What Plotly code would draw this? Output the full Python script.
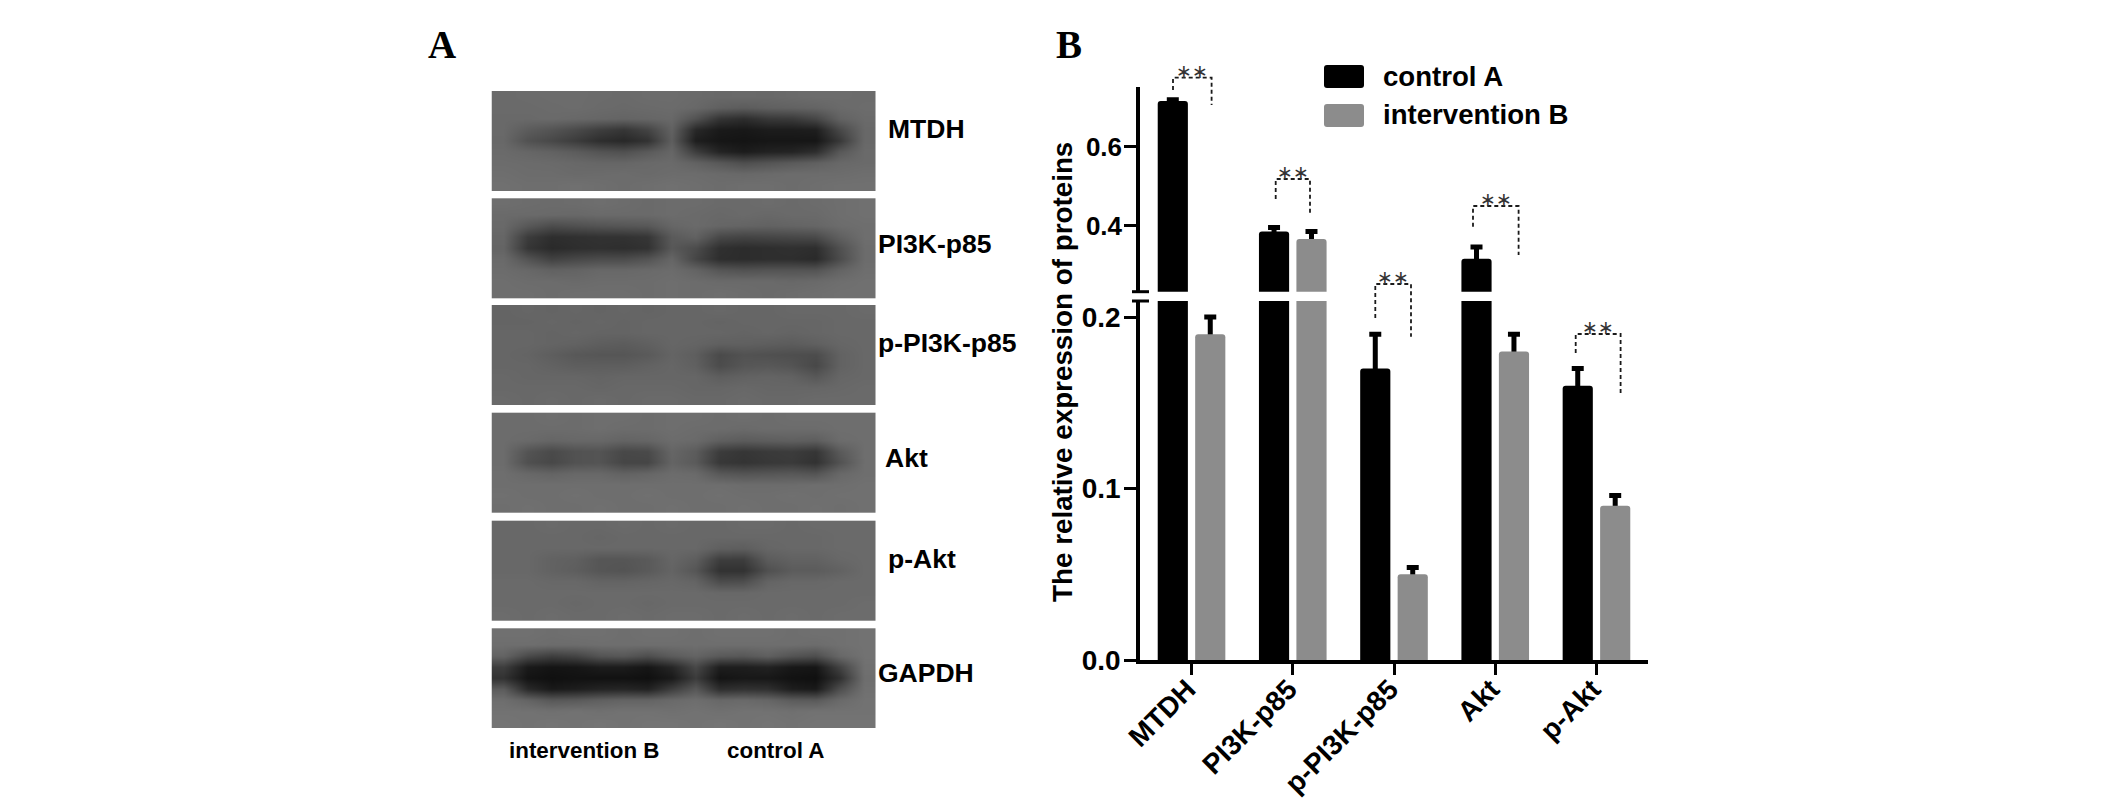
import plotly.graph_objects as go

W, H = 2123, 799
MARGIN = 8  # default page margin around the figure

# ---- data ----
categories = ["MTDH", "PI3K-p85", "p-PI3K-p85", "Akt", "p-Akt"]
control_a = [0.715, 0.386, 0.170, 0.317, 0.160]
control_a_err = [0.003, 0.010, 0.020, 0.030, 0.010]
intervention_b = [0.190, 0.367, 0.050, 0.180, 0.090]
intervention_b_err = [0.010, 0.019, 0.004, 0.010, 0.006]
err_below = [0.02, 0.02, 0.02, 0.02, 0.02]
lower_ticks = [0.0, 0.1, 0.2]
upper_ticks = [0.4, 0.6]
blot_labels = ["MTDH", "PI3K-p85", "p-PI3K-p85", "Akt", "p-Akt", "GAPDH"]

# gray levels read from the blots (rows top to bottom, columns left to right)
blot_mtdh = [
    [106, 107, 108, 108, 107, 106, 108, 108, 106, 104, 105, 104, 106, 108, 108, 107],
    [106, 106, 107, 108, 106, 105, 106, 107, 104, 96, 92, 96, 98, 100, 106, 108],
    [105, 105, 106, 104, 102, 100, 102, 104, 82, 52, 45, 56, 58, 70, 98, 106],
    [105, 92, 84, 74, 62, 54, 68, 98, 40, 26, 24, 28, 28, 30, 72, 104],
    [104, 82, 72, 60, 46, 40, 50, 94, 30, 22, 20, 22, 22, 22, 56, 104],
    [106, 102, 98, 92, 84, 80, 90, 102, 62, 36, 28, 34, 36, 46, 88, 106],
    [108, 107, 106, 104, 102, 102, 105, 106, 98, 88, 78, 84, 90, 96, 104, 106],
    [110, 108, 108, 106, 107, 108, 106, 108, 108, 106, 104, 106, 108, 108, 108, 110],
    [112, 110, 110, 112, 110, 108, 110, 112, 110, 108, 110, 110, 108, 110, 112, 112],
]
blot_pi3k = [
    [110, 108, 107, 108, 110, 108, 106, 108, 108, 106, 106, 108, 106, 108, 110, 112],
    [106, 106, 105, 104, 106, 106, 106, 108, 106, 104, 106, 104, 106, 106, 110, 112],
    [105, 88, 76, 80, 84, 86, 88, 102, 106, 102, 100, 98, 100, 102, 108, 110],
    [102, 60, 46, 48, 50, 50, 54, 90, 98, 72, 68, 70, 72, 74, 96, 110],
    [100, 54, 42, 46, 48, 46, 50, 88, 76, 48, 44, 46, 48, 46, 80, 108],
    [106, 84, 66, 72, 76, 76, 84, 102, 70, 46, 44, 46, 46, 42, 76, 108],
    [108, 104, 98, 100, 104, 104, 106, 108, 100, 86, 82, 84, 84, 84, 100, 110],
    [110, 108, 108, 106, 108, 108, 108, 110, 108, 106, 106, 106, 104, 106, 110, 112],
    [110, 110, 108, 110, 110, 110, 108, 110, 108, 110, 108, 106, 108, 110, 112, 112],
]
blot_ppi3k = [
    [100, 102, 100, 102, 100, 102, 100, 102, 102, 104, 102, 102, 104, 104, 104, 106],
    [100, 100, 102, 100, 102, 100, 102, 102, 102, 100, 102, 102, 102, 102, 104, 104],
    [102, 102, 100, 102, 100, 100, 102, 102, 102, 102, 100, 102, 100, 102, 104, 104],
    [102, 102, 100, 98, 94, 92, 96, 102, 100, 96, 96, 94, 92, 96, 102, 104],
    [102, 100, 94, 88, 86, 86, 90, 100, 94, 74, 82, 80, 78, 76, 98, 104],
    [102, 102, 98, 94, 94, 94, 98, 102, 96, 76, 86, 88, 84, 72, 98, 104],
    [104, 102, 102, 102, 100, 102, 102, 102, 102, 94, 98, 100, 98, 88, 102, 104],
    [104, 104, 104, 104, 102, 104, 104, 104, 102, 102, 104, 102, 102, 102, 104, 106],
    [106, 104, 106, 104, 106, 104, 106, 106, 104, 104, 106, 104, 104, 106, 106, 106],
]
blot_akt = [
    [108, 108, 110, 108, 110, 110, 108, 110, 110, 108, 110, 108, 110, 110, 110, 110],
    [108, 108, 108, 108, 110, 108, 108, 110, 108, 108, 106, 108, 108, 108, 110, 110],
    [108, 106, 102, 104, 104, 100, 102, 108, 106, 96, 92, 94, 96, 94, 108, 110],
    [108, 84, 74, 82, 84, 72, 74, 102, 92, 60, 54, 58, 60, 54, 90, 110],
    [108, 80, 72, 82, 84, 70, 70, 100, 90, 56, 52, 56, 58, 50, 82, 110],
    [110, 104, 100, 104, 104, 98, 102, 108, 106, 88, 84, 86, 88, 84, 104, 110],
    [110, 110, 110, 110, 110, 110, 110, 110, 110, 110, 108, 108, 108, 110, 110, 112],
    [112, 110, 110, 112, 110, 110, 112, 110, 110, 112, 110, 110, 112, 110, 112, 112],
    [110, 112, 110, 110, 112, 110, 110, 112, 110, 110, 112, 110, 110, 112, 110, 112],
]
blot_pakt = [
    [104, 104, 106, 104, 104, 106, 104, 106, 104, 104, 106, 106, 104, 106, 106, 106],
    [104, 104, 104, 104, 102, 104, 104, 104, 104, 104, 104, 104, 104, 104, 106, 106],
    [104, 104, 104, 104, 104, 104, 104, 104, 104, 96, 94, 102, 104, 104, 106, 106],
    [104, 104, 98, 96, 86, 86, 90, 102, 94, 62, 62, 92, 98, 98, 104, 106],
    [104, 104, 98, 94, 86, 84, 90, 100, 86, 50, 50, 80, 92, 92, 98, 106],
    [106, 106, 104, 104, 100, 100, 102, 104, 100, 76, 78, 100, 104, 104, 106, 106],
    [106, 106, 106, 106, 106, 106, 106, 106, 106, 104, 104, 106, 106, 106, 106, 106],
    [106, 106, 106, 104, 106, 106, 104, 106, 106, 106, 106, 106, 106, 106, 106, 108],
    [108, 106, 108, 106, 106, 108, 106, 108, 108, 106, 108, 106, 108, 106, 108, 108],
]
blot_gapdh = [
    [112, 112, 110, 112, 112, 110, 112, 112, 110, 112, 112, 112, 110, 112, 112, 114],
    [110, 110, 108, 108, 110, 110, 110, 110, 110, 110, 110, 110, 110, 108, 112, 114],
    [100, 74, 62, 68, 84, 88, 78, 92, 100, 90, 88, 96, 84, 78, 104, 114],
    [62, 26, 20, 22, 28, 28, 22, 38, 72, 30, 30, 34, 24, 22, 66, 112],
    [50, 20, 16, 18, 18, 18, 16, 26, 60, 20, 24, 24, 18, 16, 48, 110],
    [92, 42, 26, 30, 36, 38, 34, 62, 88, 46, 50, 48, 30, 26, 78, 112],
    [110, 100, 88, 90, 96, 100, 100, 106, 110, 104, 106, 102, 92, 90, 106, 114],
    [114, 114, 112, 114, 112, 114, 114, 112, 114, 112, 114, 114, 112, 114, 114, 114],
    [116, 114, 116, 114, 116, 114, 116, 116, 114, 116, 114, 116, 114, 116, 116, 116],
]

FW, FH = W - MARGIN, H - MARGIN


def px(x):
    return (x - MARGIN) / FW


def py(y):
    return 1 - (y - MARGIN) / FH


BOLD = "Liberation Sans"
blots = [blot_mtdh, blot_pi3k, blot_ppi3k, blot_akt, blot_pakt, blot_gapdh]
blot_tops = [91, 198.3, 305, 412.7, 520.7, 628.3]
blot_h = 99.5
blot_label_x = [885.5, 875.5, 875.5, 882.5, 885.5, 875.5]
blot_label_y = [129, 244, 343, 458, 559, 673]

fig = go.Figure()

# western-blot strips
for z, top in zip(blots, blot_tops):
    fig.add_trace(go.Heatmap(
        z=z, x0=1 / 32, dx=1 / 16, y0=top + blot_h / 18, dy=blot_h / 9,
        zmin=0, zmax=255, colorscale=[[0, "#000000"], [1, "#ffffff"]],
        zsmooth="best", showscale=False, hoverinfo="skip",
        xaxis="x2", yaxis="y3",
    ))

x_a = [i - 0.185 for i in range(len(categories))]
x_b = [i + 0.185 for i in range(len(categories))]
BAR_W = 0.298

for yax in ("y", "y2"):
    # error bars sit beneath the bars so only the part above each bar shows
    for xs, vals, errs in ((x_a, control_a, control_a_err), (x_b, intervention_b, intervention_b_err)):
        fig.add_trace(go.Bar(
            x=xs, y=vals, width=BAR_W, yaxis=yax, xaxis="x", showlegend=False, hoverinfo="skip",
            marker=dict(color="rgba(0,0,0,0)", line=dict(width=0)),
            error_y=dict(type="data", symmetric=False, array=errs, arrayminus=err_below,
                         color="#000000", thickness=5, width=6),
        ))
    for xs, vals, col, name in ((x_a, control_a, "#000000", "control A"),
                                (x_b, intervention_b, "#8c8c8c", "intervention B")):
        fig.add_trace(go.Bar(
            x=xs, y=vals, width=BAR_W, yaxis=yax, xaxis="x", name=name, showlegend=False,
            marker=dict(color=col, line=dict(width=0)),
        ))

shapes = []
annotations = []


def text(s, x, y, size, family=BOLD, bold=True, xanchor="left", angle=0, color="#000000"):
    annotations.append(dict(
        text=s, x=px(x), y=py(y), xref="paper", yref="paper", showarrow=False,
        xanchor=xanchor, yanchor="middle", textangle=angle,
        font=dict(family=family, size=size, color=color, weight=700 if bold else 400),
    ))


# panel letters
text("A", 426, 45, 39, family="Liberation Serif")
text("B", 1054, 45, 39, family="Liberation Serif")

# blot labels
for s, x, y in zip(blot_labels, blot_label_x, blot_label_y):
    text(s, x, y, 26.5)
text("intervention B", 507, 750, 22.4)
text("control A", 725, 750, 22.4)

# axis title
text("The relative expression of proteins", 1062, 372, 27.8, xanchor="center", angle=-90)


def rounded(x0, y0, x1, y1, r, col):
    X0, X1, Y0, Y1 = px(x0), px(x1), py(y0), py(y1)
    rx, ry = r / FW, r / FH
    path = (f"M{X0 + rx},{Y0} L{X1 - rx},{Y0} Q{X1},{Y0} {X1},{Y0 - ry} "
            f"L{X1},{Y1 + ry} Q{X1},{Y1} {X1 - rx},{Y1} L{X0 + rx},{Y1} "
            f"Q{X0},{Y1} {X0},{Y1 + ry} L{X0},{Y0 - ry} Q{X0},{Y0} {X0 + rx},{Y0} Z")
    shapes.append(dict(type="path", path=path, xref="paper", yref="paper",
                       fillcolor=col, line=dict(width=0)))


# legend
rounded(1324, 65, 1364, 88, 3, "#000000")
rounded(1324, 104, 1364, 127, 3, "#8c8c8c")
text("control A", 1381, 76, 27.6)
text("intervention B", 1381, 115, 27.6)

# axis break marks
for yy in (291.7, 301):
    shapes.append(dict(type="line", xref="paper", yref="paper", x0=px(1132), x1=px(1149),
                       y0=py(yy), y1=py(yy), line=dict(color="#000000", width=3)))

# significance brackets: left x, left start y, top y, right x, right end y
brackets = [
    (1173, 90, 77.7, 1211.6, 105),
    (1275.7, 199, 179, 1310, 214),
    (1375.3, 318, 284, 1411, 336.7),
    (1473, 226.7, 206, 1518.6, 255),
    (1575.7, 353, 334, 1620.6, 395),
]
for xl, yl, yt, xr, yr in brackets:
    path = f"M{px(xl)},{py(yl)} L{px(xl)},{py(yt)} L{px(xr)},{py(yt)} L{px(xr)},{py(yr)}"
    shapes.append(dict(type="path", path=path, xref="paper", yref="paper",
                       line=dict(color="#1a1a1a", width=1.8, dash="4px,3px")))
    text("∗∗", (xl + xr) / 2, yt - 7, 19, family="DejaVu Sans", bold=False,
         xanchor="center", color="#333333")

axis_line = dict(showline=True, linecolor="#000000", linewidth=3.5, ticks="outside",
                 tickcolor="#000000", showgrid=False, zeroline=False)

fig.update_layout(
    width=FW, height=FH, margin=dict(l=0, r=0, t=0, b=0, autoexpand=False),
    paper_bgcolor="#ffffff", plot_bgcolor="rgba(0,0,0,0)",
    barmode="overlay", barcornerradius=3, showlegend=False,
    xaxis=dict(domain=[px(1140), px(1648)], range=[-0.509, 4.509], anchor="y",
               tickmode="array", tickvals=list(range(len(categories))), ticktext=categories,
               tickangle=-45, ticklen=11, tickwidth=3, ticklabelstandoff=-13, ticklabelshift=-4,
               tickfont=dict(family=BOLD, size=28, color="#000000", weight=700), **axis_line),
    yaxis=dict(domain=[py(660), py(301)], range=[0, 0.2094], anchor="x",
               tickmode="array", tickvals=lower_ticks, ticktext=[f"{t:.1f}" for t in lower_ticks],
               ticklen=12, tickwidth=3, ticklabelstandoff=-2,
               tickfont=dict(family=BOLD, size=28, color="#000000", weight=700), **axis_line),
    yaxis2=dict(domain=[py(291.7), py(86.7)], range=[0.234, 0.751], anchor="x",
                tickmode="array", tickvals=upper_ticks, ticktext=[f"{t:.1f}" for t in upper_ticks],
                ticklen=12, tickwidth=3, ticklabelstandoff=-3,
                tickfont=dict(family=BOLD, size=26, color="#000000", weight=700), **axis_line),
    xaxis2=dict(domain=[px(491.5), px(876)], range=[0, 1], anchor="y3", visible=False),
    yaxis3=dict(domain=[py(728), py(91)], range=[728, 91], anchor="x2", visible=False),
    shapes=shapes, annotations=annotations,
)

fig.write_html("out.html")
